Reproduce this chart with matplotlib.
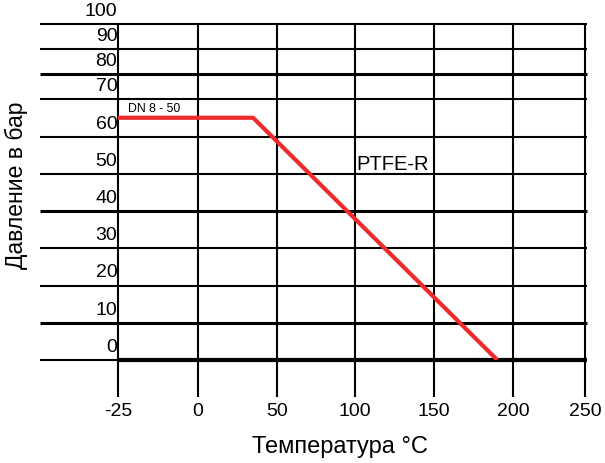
import matplotlib.pyplot as plt
import matplotlib.transforms as mtransforms
import numpy as np

plt.rcParams['font.family'] = ['Liberation Sans', 'DejaVu Sans']

# data
temperature = [-25, 35, 190]
pressure = [65, 65, 0]

x_ticks = [-25, 0, 50, 100, 150, 200, 250]
y_ticks = [0, 10, 20, 30, 40, 50, 60, 70, 80, 90, 100]
thick_lines = [80, 40, 10]

# the grid in the original is not evenly spaced: map values onto slots
x_slots = [0, 1.01, 2.01, 3.0, 4.0, 5.0, 5.91]
y_slots = [0, 1, 2, 3, 4, 5, 6, 7.02, 7.69, 8.36, 9.03]


def fx(v):
    return np.interp(v, x_ticks, x_slots)


def fx_inv(s):
    return np.interp(s, x_slots, x_ticks)


def fy(v):
    return np.interp(v, y_ticks, y_slots)


def fy_inv(s):
    return np.interp(s, y_slots, y_ticks)


W, H = 605, 463
fig = plt.figure(figsize=(W / 100, H / 100), dpi=100)
ax = fig.add_axes([118 / W, (H - 360) / H, (585 - 118) / W, (360 - 24) / H])
ax.set_xscale('function', functions=(fx, fx_inv))
ax.set_yscale('function', functions=(fy, fy_inv))
ax.set_xlim(-25, 250)
ax.set_ylim(0, 100)
for s in ax.spines.values():
    s.set_visible(False)
ax.set_yticks([])

ytr = ax.get_yaxis_transform()
xtr = ax.get_xaxis_transform()
left_ext = (40 - 118) / (585 - 118)
right_ext = (587 - 118) / (585 - 118)
bottom_ext = -(397 - 360) / (360 - 24)

for v in y_ticks:
    lw = 2.2 if v in thick_lines else 1.5
    ax.plot([left_ext, right_ext], [v, v], color='black', lw=lw,
            transform=ytr, clip_on=False, solid_capstyle='butt')
ax.plot([0, 1.005], [0, 0], color='black', lw=3, transform=ytr,
        clip_on=False, solid_capstyle='butt')

for v in x_ticks:
    ax.plot([v, v], [bottom_ext, 1], color='black', lw=1.5,
            transform=xtr, clip_on=False, solid_capstyle='butt')

ax.plot(temperature, pressure, color='#ee2a2a', lw=3, zorder=5,
        solid_capstyle='butt')

# y labels sit just above each grid line
off = mtransforms.offset_copy(ytr, fig=fig, x=-0.5, y=3, units='points')
for v in y_ticks:
    ax.text(0, v, str(v), transform=off, ha='right', va='bottom',
            fontsize=14, clip_on=False)

ax.set_xticks(x_ticks)
ax.set_xticklabels([str(v) for v in x_ticks], fontsize=14)
ax.tick_params(axis='x', length=0, pad=31)

fig.text(340 / W, 1 - 447 / H, 'Температура °C', ha='center', va='center',
         fontsize=17)
fig.text(16 / W, 1 - 185 / H, 'Давление в бар', rotation=90,
         ha='center', va='center', fontsize=16.5)

ax.text(-22, 65.8, 'DN 8 - 50', fontsize=8.8, va='bottom')
ax.text(101, 52.5, 'PTFE-R', fontsize=14.5, va='center')

fig.savefig('out.png', dpi=100)
